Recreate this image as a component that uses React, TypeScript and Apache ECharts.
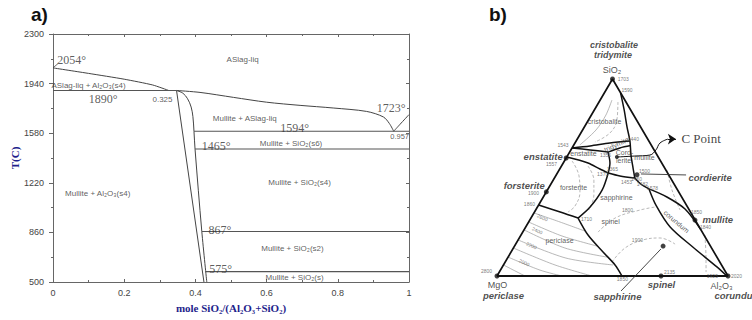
import React, { useEffect, useRef } from "react";
import * as echarts from "echarts";

// ---------------- Panel a: Al2O3–SiO2 phase diagram ----------------
const T_MIN = 500;
const T_MAX = 2300;
const T_STEP = 360;
const X_STEP = 0.2;

const LIQ_AL2O3_X = [0, 0.1, 0.2, 0.28, 0.325];
const LIQ_AL2O3_T = [2054, 2014, 1972, 1930, 1890];
const LIQ_MULLITE_X = [0.347, 0.413, 0.507, 0.6, 0.694, 0.787, 0.881, 0.928, 0.945, 0.957];
const LIQ_MULLITE_T = [1890, 1876, 1840, 1805, 1782, 1763, 1738, 1698, 1650, 1594];
const LIQ_SIO2_X = [0.957, 0.975, 1];
const LIQ_SIO2_T = [1594, 1645, 1715];
const MULLITE_L_X = [0.347, 0.424];
const MULLITE_L_T = [1890, 500];
const MULLITE_R_X = [0.347, 0.365, 0.378, 0.388, 0.393, 0.396, 0.399, 0.418, 0.432];
const MULLITE_R_T = [1890, 1870, 1830, 1770, 1700, 1594, 1465, 867, 500];
const INVARIANT_T = [1890, 1594, 1465, 867, 575];
const INVARIANT_X0 = [0, 0.396, 0.399, 0.418, 0.428];
const INVARIANT_X1 = [0.347, 1, 1, 1, 1];
const LEADER_2054_X = [0, 0.014];
const LEADER_2054_T = [2054, 2085];

const TEMP_TEXT = ["2054°", "1890°", "1723°", "1594°", "1465°", "867°", "575°"];
const TEMP_X = [0.013, 0.142, 0.992, 0.68, 0.46, 0.47, 0.472];
const TEMP_T = [2105, 1823, 1760, 1613, 1483, 876, 594];
const TEMP_ALIGN = ["left", "center", "right", "center", "center", "center", "center"];

const REGION_TEXT = [
  "ASlag-liq",
  "ASlag-liq + Al₂O₃(s4)",
  "0.325",
  "Mullite + ASlag-liq",
  "0.957",
  "Mullite + SiO₂(s6)",
  "Mullite + SiO₂(s4)",
  "Mullite + Al₂O₃(s4)",
  "Mullite + SiO₂(s2)",
  "Mullite + SiO₂(s)",
];
const REGION_X = [0.534, -0.003, 0.309, 0.54, 0.975, 0.67, 0.694, 0.127, 0.674, 0.68];
const REGION_T = [2112, 1924, 1823, 1686, 1555, 1505, 1216, 1136, 738, 529];
const REGION_ALIGN = ["center", "left", "center", "center", "center", "center", "center", "center", "center", "center"];

// ---------------- Panel b: MgO–Al2O3–SiO2 ternary (points = [SiO2 wt%, Al2O3 wt%]) ----------------
const TRIANGLE = [[0, 0], [0, 100], [100, 0], [0, 0]];
const SIO2 = [100, 0];
const MGO = [0, 0];
const AL2O3 = [0, 100];
const ENSTATITE = [59.9, 0];
const FORSTERITE = [42.7, 0];
const SPINEL = [0, 71];
const SAPPHIRINE = [15.2, 64.3];
const MULLITE = [28.4, 71.5];
const CORDIERITE = [51.4, 34.9];
const C_POINT = [60.4, 21.7];
const COMPOUNDS = [SIO2, MGO, AL2O3, ENSTATITE, FORSTERITE, SPINEL, SAPPHIRINE, MULLITE, CORDIERITE];

const B_SILICA_MULLITE = [[93, 7], [84.3, 12.9], [75.6, 18.5], [68.5, 23.3], [61.4, 27.3], [54.8, 31.5], [49.7, 34.8]];
const B_CRISTOBALITE = [[65, 0], [66, 7.3], [67.5, 15.1], [68.5, 23.3]];
const B_ENSTATITE_TOP = [[65, 0], [64, 8.3], [62.9, 16.6]];
const B_TRIDYMITE = [[62.9, 16.6], [65, 20.7], [66.2, 24.8]];
const B_CORD_LEFT = [[62.9, 16.6], [57.4, 20.2], [52.3, 22]];
const B_EN_FO = [[60.4, 0], [57.4, 10.7], [54.3, 17.4], [52.3, 22]];
const B_FO_SP = [[52.3, 22], [43.7, 23.7], [35, 22.8], [29.4, 20.4]];
const B_FO_PE = [[36, 0], [32.5, 11.1], [29.4, 20.4]];
const B_PE_SP = [[29.4, 20.4], [20.8, 29], [12.2, 39.8], [5.6, 48.3], [0, 54.1]];
const B_SAPPH_TOP = [[52.3, 22], [50.8, 27.8], [49.7, 34.8]];
const B_MID = [[49.7, 34.8], [46.7, 38.9], [44.2, 43.7]];
const B_CO_MU = [[44.2, 43.7], [40.1, 53.5], [34, 64.4], [23.4, 76.6]];
const B_CO_SP = [[44.2, 43.7], [36, 50.8], [24.9, 62.5], [14.7, 77.4], [4.6, 92.9], [0, 99.5]];
const BOUNDARIES = [B_SILICA_MULLITE, B_CRISTOBALITE, B_ENSTATITE_TOP, B_TRIDYMITE, B_CORD_LEFT, B_EN_FO, B_FO_SP, B_FO_PE, B_PE_SP, B_SAPPH_TOP, B_MID, B_CO_MU, B_CO_SP];

const ISO_SOLID = [
  [[89.3, 5.1], [81.7, 6.3], [74.1, 5.8], [66.5, 2.6]],
  [[32, 0], [27.4, 13.6], [22.8, 26.7]],
  [[27.4, 0], [20.3, 18], [15.2, 35.7]],
  [[23.4, 0], [14.2, 22.3], [9.6, 42.8]],
  [[18.3, 0], [9.1, 25.3], [5.6, 47.4]],
  [[14.2, 0], [5.6, 22.3], [0, 41.1]],
  [[9.6, 0], [3, 17.1], [0, 28.1]],
  [[5.6, 0], [0, 12.1]],
];
const ISO_DASHED = [
  [[88.3, 8.2], [79.2, 12.3], [72.6, 12.6], [68, 8.4]],
  [[58.4, 3.3], [50.8, 10.1], [42.6, 14.6], [35.5, 16], [32.5, 14.5]],
  [[55.8, 11.5], [48.7, 17.6], [41.1, 21.4], [33.5, 23]],
  [[7.1, 46.2], [14.2, 48.3], [18.3, 54], [19.3, 60.9], [16.2, 69]],
  [[22.3, 32.6], [29.4, 36.4], [33.5, 45.2], [35, 50.9]],
  [[20.8, 79.6], [10.7, 85.1], [2, 89.5]],
  [[53.8, 46.7], [43.7, 53.9], [33.5, 62.5]],
];
const C_ARROW_CURVE = [[60.4, 21.7], [60.9, 29.2], [61.4, 35.5], [64, 36.8], [67.5, 36.8], [69.5, 39.2]];
const C_ARROW_HEAD = [[69.5, 39.2], [69.5, 42.7]];
const CORDIERITE_LEADER = [[51.8, 36.4], [51.3, 56.2]];
const SAPPHIRINE_LEADER = [[-7.6, 57.5], [13.7, 64.1]];

const TEMP_B_TEXT = ["1703", "1590", "1543", "1557", "1900", "1860", "2800", "1355", "1365", "1370", "1440", "1500", "1460", "1453", "1482", "1578", "1710", "1850", "2135", "1925", "2020", "1850", "1840", "2600", "2400", "2200", "2000", "1800", "1900"];
const TEMP_B_AT = [[100, 2.5], [94.4, 6.9], [66, -1.8], [56.4, -4.4], [42.1, -5], [36.5, -4], [2.5, -5.6], [61.4, 16.5], [54.3, 23], [51.3, 20.3], [69.5, 24.5], [52.8, 37.7], [49.2, 36], [47.7, 32.4], [46.7, 39.8], [44.2, 45.4], [28.9, 24.5], [-2, 55.5], [2, 73.9], [-0.3, 93.6], [0, 103.9], [32, 70.6], [24.4, 78.3], [29.4, 5.2], [22.8, 6.3], [15.2, 7.6], [6.6, 8.8], [33, 40.2], [17.8, 52.1]];

const FIELD_TEXT = ["cristobalite", "enstatite", "Cord-", "ierite", "mullite", "tridymite", "forsterite", "sapphirine", "spinel", "periclase", "corundum"];
const FIELD_AT = [[78.2, 7.7], [61.9, 6.7], [62.4, 24.2], [58.4, 25.8], [59.9, 34.1], [66.5, 18.7], [44.7, 11], [39.6, 32.1], [27.4, 35.7], [17.8, 18.4], [27.4, 64.2]];
const FIELD_ROT = [0, 0, 0, 0, 0, 25, 0, 0, 0, 0, -40];

const tern = (p: number[]) => [(p[1] + p[0] / 2) / 100, p[0] / 100];
const pa = (p: number[]) => [p[0], p[1] - T_MIN];
const zipXY = (xs: number[], ys: number[]) => xs.map((x, i) => [x, ys[i]]);

type Ann = { t: string; p: number[]; dx?: number; dy?: number; al?: string; rot?: number; fs?: number };

function annSeries(anns: Ann[], idx: number, conv: (p: number[]) => number[], font: any) {
  return {
    type: "scatter",
    xAxisIndex: idx,
    yAxisIndex: idx,
    symbolSize: 1,
    itemStyle: { color: "rgba(0,0,0,0)" },
    silent: true,
    clip: false,
    z: 10,
    emphasis: { disabled: true },
    data: anns.map((a) => ({
      value: conv(a.p),
      label: {
        show: true,
        formatter: a.t,
        position: [a.dx ?? 0, a.dy ?? 0],
        align: a.al ?? "center",
        verticalAlign: "middle",
        rotate: a.rot ?? 0,
        ...font,
        ...(a.fs ? { fontSize: a.fs } : {}),
      },
    })),
  };
}

function lineA(pts: number[][], color = "#444", width = 1, smooth: number | boolean = 0.3) {
  return {
    type: "line",
    xAxisIndex: 0,
    yAxisIndex: 0,
    data: pts.map(pa),
    symbol: "none",
    smooth,
    silent: true,
    lineStyle: { color, width },
    z: 3,
  };
}

function lineB(pts: number[][], style: any, smooth: number | boolean = 0.3) {
  return {
    type: "line",
    xAxisIndex: 2,
    yAxisIndex: 2,
    data: pts.map(tern),
    symbol: "none",
    smooth,
    silent: true,
    clip: false,
    lineStyle: style,
    z: 4,
  };
}

function buildOption(): any {
  const axisGray = "#666";
  const series: any[] = [];

  // panel a lines
  series.push(lineA(zipXY(LIQ_AL2O3_X, LIQ_AL2O3_T), "#444", 1, 0.2));
  series.push(lineA(zipXY(LIQ_MULLITE_X, LIQ_MULLITE_T), "#444", 1, 0.3));
  series.push(lineA(zipXY(LIQ_SIO2_X, LIQ_SIO2_T), "#444", 1, 0.3));
  series.push(lineA(zipXY(MULLITE_L_X, MULLITE_L_T), "#444", 1, false));
  series.push(lineA(zipXY(MULLITE_R_X, MULLITE_R_T), "#444", 1, 0.35));
  series.push(lineA(zipXY(LEADER_2054_X, LEADER_2054_T), "#444", 0.8, false));
  INVARIANT_T.forEach((t, i) => {
    series.push(lineA([[INVARIANT_X0[i], t], [INVARIANT_X1[i], t]], "#555", 1.1, false));
  });

  const serifA = { fontFamily: "Liberation Serif", fontSize: 12, color: "#333" };
  const sansA = { fontFamily: "Liberation Sans", fontSize: 8, color: "#333" };
  series.push(
    annSeries(
      TEMP_TEXT.map((t, i) => ({ t, p: [TEMP_X[i], TEMP_T[i]], al: TEMP_ALIGN[i] })),
      0,
      pa,
      serifA
    )
  );
  series.push(
    annSeries(
      REGION_TEXT.map((t, i) => ({ t, p: [REGION_X[i], REGION_T[i]], al: REGION_ALIGN[i], fs: t === "0.957" ? 7.5 : undefined })),
      0,
      pa,
      sansA
    )
  );

  // panel b
  ISO_SOLID.forEach((l) => series.push(lineB(l, { color: "#999", width: 0.7 }, 0.3)));
  ISO_DASHED.forEach((l) => series.push(lineB(l, { color: "#999", width: 0.7, type: [3, 2] }, 0.4)));
  BOUNDARIES.forEach((b) => series.push(lineB(b, { color: "#111", width: 1.5 }, 0.3)));
  series.push(lineB(TRIANGLE, { color: "#111", width: 1.7 }, false));
  series.push(lineB([MGO, AL2O3], { color: "#111", width: 2.2 }, false));
  series.push(lineB(C_ARROW_CURVE, { color: "#111", width: 1 }, 0.4));
  series.push(lineB(CORDIERITE_LEADER, { color: "#333", width: 0.9 }, false));
  series.push(lineB(SAPPHIRINE_LEADER, { color: "#333", width: 0.9 }, false));
  series.push({
    type: "lines",
    coordinateSystem: "cartesian2d",
    xAxisIndex: 2,
    yAxisIndex: 2,
    symbol: ["none", "arrow"],
    symbolSize: 8,
    silent: true,
    clip: false,
    lineStyle: { color: "#111", width: 1, opacity: 1, curveness: 0 },
    data: [{ coords: C_ARROW_HEAD.map(tern) }],
    z: 5,
  });
  series.push({
    type: "scatter",
    xAxisIndex: 2,
    yAxisIndex: 2,
    data: COMPOUNDS.map(tern),
    symbolSize: 5,
    itemStyle: { color: "#111" },
    silent: true,
    clip: false,
    z: 6,
  });
  series.push({
    type: "scatter",
    xAxisIndex: 2,
    yAxisIndex: 2,
    data: [tern(C_POINT)],
    symbolSize: 4,
    itemStyle: { color: "#111" },
    silent: true,
    clip: false,
    z: 6,
  });

  const boldIt = { fontFamily: "Liberation Sans", fontSize: 9.5, fontWeight: "bold", fontStyle: "italic", color: "#222" };
  const plainB = { fontFamily: "Liberation Sans", fontSize: 9, color: "#222" };
  series.push(
    annSeries(
      [
        { t: "cristobalite", p: SIO2, dx: 2, dy: -34, fs: 9 },
        { t: "tridymite", p: SIO2, dx: 1, dy: -24, fs: 9 },
        { t: "enstatite", p: ENSTATITE, dx: -3, dy: -1, al: "right" },
        { t: "forsterite", p: FORSTERITE, dx: -1, dy: -6, al: "right" },
        { t: "cordierite", p: CORDIERITE, dx: 52, dy: 3, al: "left" },
        { t: "mullite", p: MULLITE, dx: 8, dy: 0, al: "left" },
        { t: "spinel", p: SPINEL, dx: 1, dy: 9 },
        { t: "sapphirine", p: [-10.7, 57.7] },
        { t: "periclase", p: MGO, dx: 7, dy: 20 },
        { t: "corundum", p: AL2O3, dx: -13, dy: 20, al: "left" },
      ],
      2,
      tern,
      boldIt
    )
  );
  series.push(
    annSeries(
      [
        { t: "SiO₂", p: SIO2, dx: 0, dy: -9 },
        { t: "MgO", p: MGO, dx: 1, dy: 9 },
        { t: "Al₂O₃", p: AL2O3, dx: -6, dy: 10 },
      ],
      2,
      tern,
      plainB
    )
  );
  series.push(
    annSeries(
      [{ t: "C Point", p: C_ARROW_HEAD[1], dx: 6, dy: 0, al: "left" }],
      2,
      tern,
      { fontFamily: "Liberation Serif", fontSize: 13, color: "#111" }
    )
  );
  series.push(
    annSeries(
      FIELD_TEXT.map((t, i) => ({ t, p: FIELD_AT[i], rot: FIELD_ROT[i] })),
      2,
      tern,
      { fontFamily: "Liberation Sans", fontSize: 7, color: "#333" }
    )
  );
  series.push(
    annSeries(
      TEMP_B_TEXT.map((t, i) => ({ t, p: TEMP_B_AT[i], al: i < 2 ? "left" : i === 2 ? "right" : "center", rot: i >= 23 && i <= 26 ? -25 : 0 })),
      2,
      tern,
      { fontFamily: "Liberation Sans", fontSize: 5, color: "#555" }
    )
  );

  const tickStyle = { lineStyle: { color: axisGray } };
  return {
    animation: false,
    backgroundColor: "#fff",
    textStyle: { fontFamily: "Liberation Sans" },
    grid: [
      { left: 53, top: 34, width: 356, height: 248, show: false },
      { left: 497, top: 79, width: 231, height: 197, show: false },
    ],
    xAxis: [
      {
        gridIndex: 0,
        type: "value",
        min: 0,
        max: 1,
        interval: X_STEP,
        position: "bottom",
        axisLine: { onZero: false, lineStyle: { color: axisGray } },
        axisTick: { inside: true, length: 3, ...tickStyle },
        minorTick: { show: true, splitNumber: 2, length: 2, ...tickStyle },
        axisLabel: { fontSize: 9, color: "#444", margin: 6, fontFamily: "Liberation Sans" },
        splitLine: { show: false },
        name: "mole SiO₂/(Al₂O₃+SiO₂)",
        nameLocation: "middle",
        nameGap: 20,
        nameTextStyle: { fontFamily: "Liberation Serif", fontWeight: "bold", fontSize: 11, color: "#1f1f8c" },
      },
      {
        gridIndex: 0,
        type: "value",
        min: 0,
        max: 1,
        interval: X_STEP,
        position: "top",
        axisLine: { onZero: false, lineStyle: { color: axisGray } },
        axisTick: { inside: true, length: 3, ...tickStyle },
        minorTick: { show: true, splitNumber: 2, length: 2, ...tickStyle },
        axisLabel: { show: false },
        splitLine: { show: false },
      },
      { gridIndex: 1, type: "value", min: 0, max: 1, show: false },
    ],
    yAxis: [
      {
        gridIndex: 0,
        type: "value",
        min: 0,
        max: T_MAX - T_MIN,
        interval: T_STEP,
        position: "left",
        axisLine: { onZero: false, lineStyle: { color: axisGray } },
        axisTick: { inside: false, length: 4, ...tickStyle },
        minorTick: { show: true, splitNumber: 2, length: 2, ...tickStyle },
        axisLabel: { fontSize: 9, color: "#444", margin: 9, fontFamily: "Liberation Sans", formatter: (v: number) => String(v + T_MIN) },
        splitLine: { show: false },
        name: "T(C)",
        nameLocation: "middle",
        nameGap: 31,
        nameRotate: 90,
        nameTextStyle: { fontFamily: "Liberation Serif", fontWeight: "bold", fontSize: 11, color: "#1f1f8c" },
      },
      {
        gridIndex: 0,
        type: "value",
        min: 0,
        max: T_MAX - T_MIN,
        interval: T_STEP,
        position: "right",
        axisLine: { onZero: false, lineStyle: { color: axisGray } },
        axisTick: { inside: true, length: 3, ...tickStyle },
        minorTick: { show: true, splitNumber: 2, length: 2, ...tickStyle },
        axisLabel: { show: false },
        splitLine: { show: false },
      },
      { gridIndex: 1, type: "value", min: 0, max: 1, show: false },
    ],
    graphic: [
      { type: "text", left: 31, top: 5, style: { text: "a)", font: "bold 19px Liberation Sans", fill: "#111" } },
      { type: "text", left: 489, top: 5, style: { text: "b)", font: "bold 19px Liberation Sans", fill: "#111" } },
    ],
    series,
  };
}

export default function App() {
  const ref = useRef<HTMLDivElement>(null);
  useEffect(() => {
    if (!ref.current) return;
    const chart = echarts.init(ref.current, null, { renderer: "svg" });
    chart.setOption(buildOption());
    return () => chart.dispose();
  }, []);
  return (
    <div
      ref={ref}
      style={{ position: "fixed", left: 0, top: 0, width: 752, height: 320, background: "#fff" }}
    />
  );
}
